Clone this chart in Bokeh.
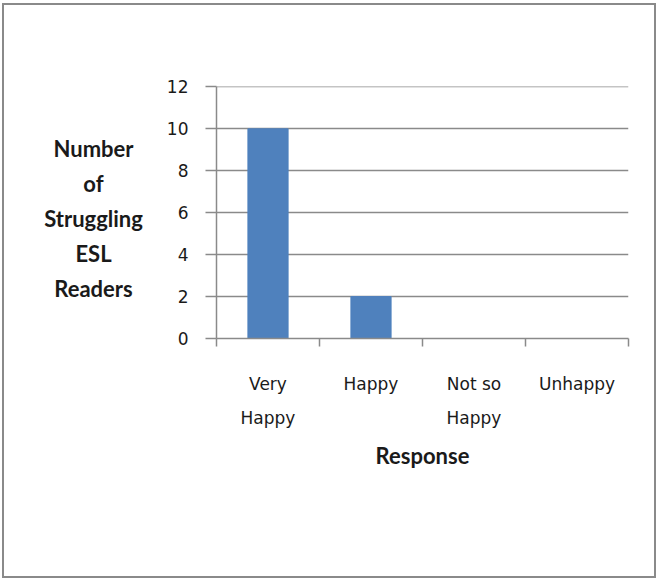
from bokeh.plotting import figure
from bokeh.layouts import row
from bokeh.models import FixedTicker, Range1d
from bokeh.core.properties import value
from bokeh.embed import file_html
from bokeh.resources import INLINE

categories = ["Very\nHappy", "Happy", "Not so\nHappy", "Unhappy"]
counts = [10, 2, 0, 0]
y_ticks = [0, 2, 4, 6, 8, 10, 12]
y_title = "Number\nof\nStruggling\nESL\nReaders"
x_title = "Response"

positions = [i + 0.5 for i in range(len(categories))]
boundaries = list(range(len(categories) + 1))

# left panel holding the horizontal, centred y-axis title
t = figure(width=150, height=571, output_backend="svg", toolbar_location=None,
           x_range=Range1d(-89, 61), y_range=Range1d(-272, 299),
           min_border_left=0, min_border_right=0, min_border_top=0, min_border_bottom=0)
t.axis.visible = False
t.grid.visible = False
t.outline_line_color = None
t.text(x=[0], y=[0], text=[y_title], text_align="center", text_baseline="middle",
       text_font=value("Lato"), text_font_style="bold", text_font_size="22px",
       text_color="#1a1a1a", text_line_height=1.3)

p = figure(width=500, height=571, output_backend="svg", toolbar_location=None,
           x_range=Range1d(0, len(categories)), y_range=Range1d(0, 12.02),
           min_border_left=62, min_border_right=26, min_border_top=81, min_border_bottom=238)
p.outline_line_color = None
p.background_fill_color = "white"
p.border_fill_color = "white"

p.vbar(x=positions, top=counts, width=0.39, color="#4F81BD")

grid_col = "#8a8a8a"
# x axis
p.xaxis.ticker = FixedTicker(ticks=positions, minor_ticks=boundaries)
p.xaxis.major_label_overrides = {pos: lab for pos, lab in zip(positions, categories)}
p.xaxis.major_tick_line_color = None
p.xaxis.minor_tick_line_color = grid_col
p.xaxis.minor_tick_line_width = 1.5
p.xaxis.minor_tick_in = 0
p.xaxis.minor_tick_out = 8
p.xaxis.axis_line_color = grid_col
p.xaxis.axis_line_width = 1.5
p.xaxis.major_label_text_font = "DejaVu Sans"
p.xaxis.major_label_text_font_size = "17px"
p.xaxis.major_label_text_color = "#1a1a1a"
p.xaxis.major_label_text_line_height = 1.72
p.xaxis.major_label_standoff = 27
p.xaxis.axis_label = x_title
p.xaxis.axis_label_text_font = "Lato"
p.xaxis.axis_label_text_font_style = "bold"
p.xaxis.axis_label_text_font_size = "22px"
p.xaxis.axis_label_text_color = "#1a1a1a"
p.xaxis.axis_label_standoff = 11

# y axis
p.yaxis.ticker = FixedTicker(ticks=y_ticks, minor_ticks=[])
p.yaxis.major_tick_line_color = grid_col
p.yaxis.major_tick_line_width = 1.5
p.yaxis.major_tick_in = 0
p.yaxis.major_tick_out = 11
p.yaxis.axis_line_color = grid_col
p.yaxis.axis_line_width = 1.5
p.yaxis.major_label_text_font = "DejaVu Sans"
p.yaxis.major_label_text_font_size = "17px"
p.yaxis.major_label_text_color = "#1a1a1a"
p.yaxis.major_label_standoff = 17

p.xgrid.visible = False
p.ygrid.ticker = FixedTicker(ticks=y_ticks)
p.ygrid.grid_line_color = grid_col
p.ygrid.grid_line_width = 1.5

layout = row(t, p, spacing=0)
layout.styles = {"border": "2px solid #8a8a8a", "margin-left": "2px", "margin-top": "3px",
                 "background-color": "white"}

open("out.html", "w").write(file_html(layout, INLINE))
